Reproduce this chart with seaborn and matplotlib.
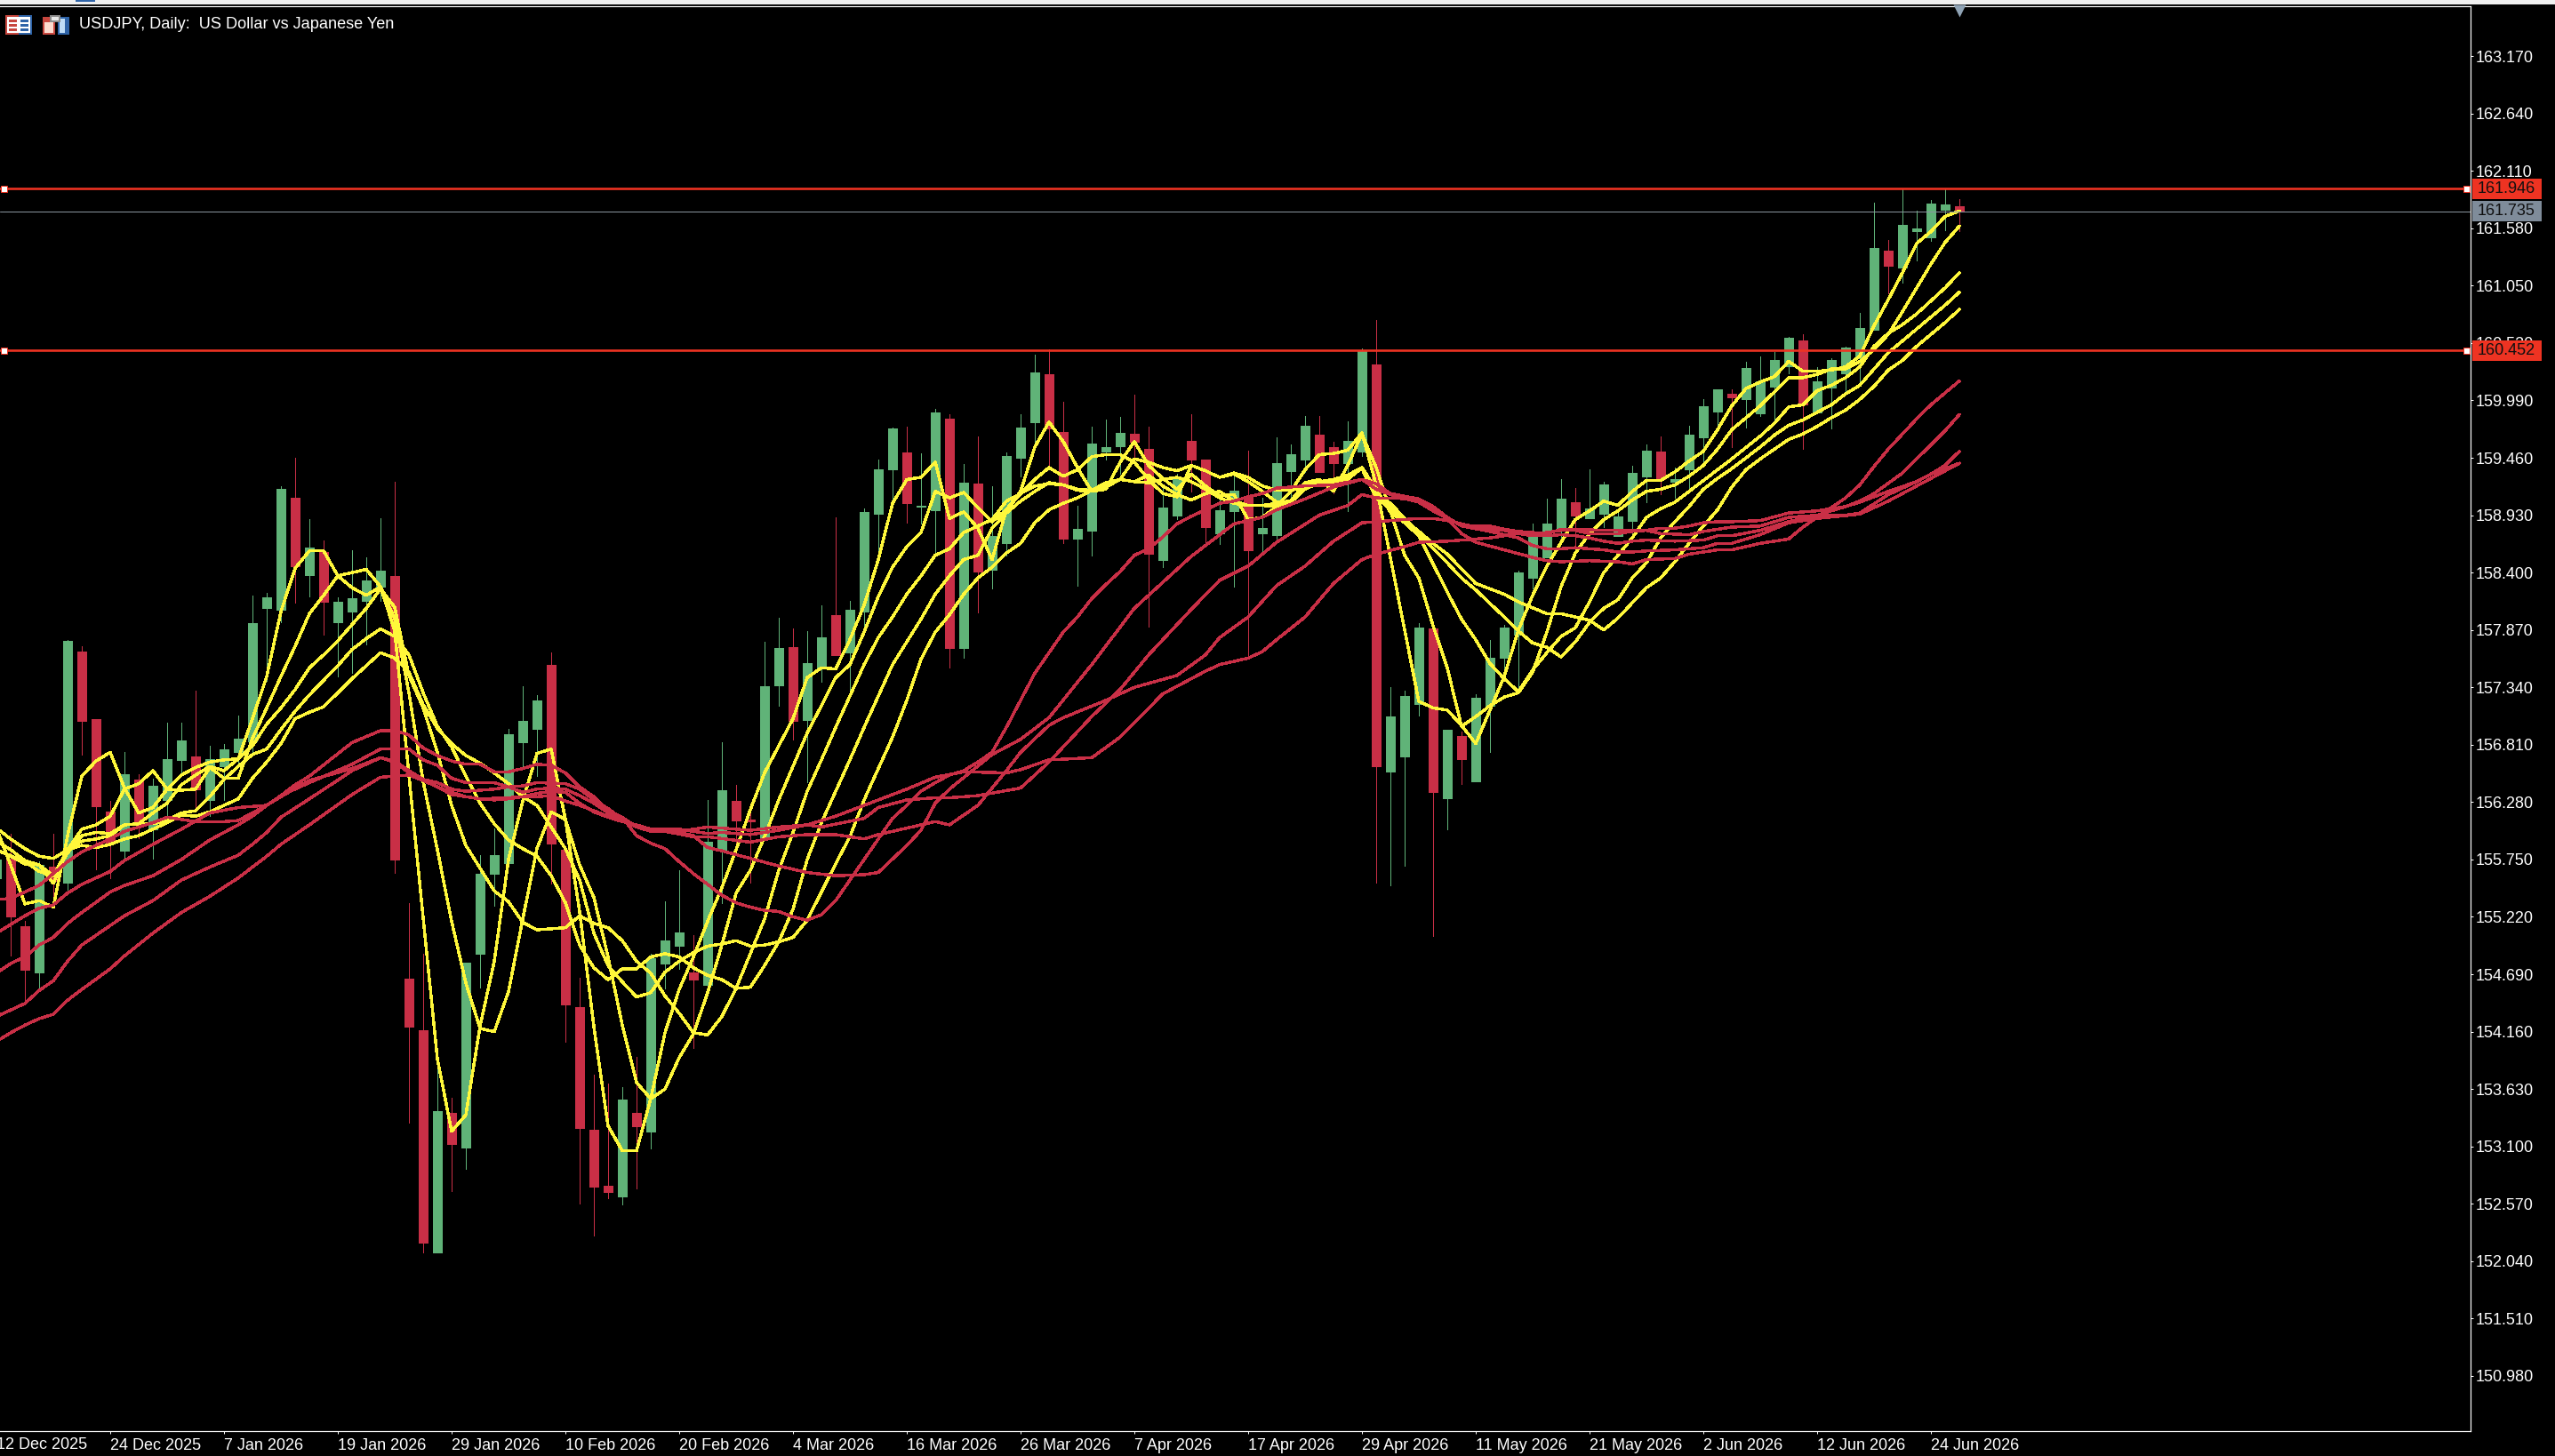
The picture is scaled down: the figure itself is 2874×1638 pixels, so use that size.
import pandas as pd
import matplotlib
matplotlib.use("Agg")
import matplotlib.pyplot as plt
from matplotlib.patches import Rectangle
from matplotlib.transforms import blended_transform_factory
import seaborn as sns

# daily candles
opens = [155.58,155.76,155.13,154.71,155.68,155.54,157.67,157.05,156.19,155.83,
         156.49,156.03,156.30,156.67,156.70,156.30,156.61,156.74,156.84,158.07,
         158.06,159.09,158.38,158.59,157.94,158.04,158.14,158.27,158.37,154.65,
         154.17,152.12,153.41,153.09,154.88,155.62,155.72,156.83,156.96,157.55,
         155.84,154.39,153.25,152.74,152.64,153.41,153.24,154.79,154.95,154.71,
         154.59,155.84,156.29,156.12,155.94,157.36,157.71,157.04,157.52,158.01,
         157.66,158.04,158.94,159.35,159.51,159.01,158.98,159.82,157.70,159.22,
         158.43,158.67,159.46,159.79,160.23,159.70,158.71,158.79,159.52,159.57,
         159.68,159.54,158.52,158.93,159.62,159.44,158.76,158.97,159.11,158.76,
         158.75,159.34,159.44,159.67,159.56,159.41,159.52,160.32,156.56,156.70,
         157.19,157.88,156.32,156.89,156.47,157.17,157.61,157.83,158.35,158.54,
         158.81,159.05,158.90,158.94,158.74,158.88,159.29,159.52,159.24,159.35,
         159.65,159.89,160.05,160.00,159.87,160.12,160.31,160.54,159.88,160.11,
         160.24,160.38,160.64,161.37,161.22,161.55,161.50,161.75,161.78]
closes = [155.75,155.22,154.73,155.70,155.55,157.77,157.03,156.24,155.90,156.54,
          156.08,156.43,156.68,156.85,156.40,156.68,156.77,156.87,157.93,158.17,
          159.17,158.46,158.63,158.13,158.13,158.16,158.33,158.42,155.75,154.21,
          152.21,153.43,153.12,154.80,155.62,155.79,156.91,157.03,157.22,155.90,
          154.41,153.27,152.73,152.68,153.53,153.29,154.84,155.00,155.08,154.64,
          155.91,156.39,156.11,156.10,157.35,157.70,157.03,157.56,157.80,157.64,
          158.06,158.96,159.35,159.73,159.04,159.02,159.88,157.70,159.23,158.41,
          158.74,159.48,159.74,160.25,159.73,158.71,158.80,159.59,159.56,159.69,
          159.61,158.57,159.00,159.28,159.44,158.82,158.98,159.16,158.61,158.81,
          159.41,159.49,159.76,159.33,159.41,159.62,160.45,156.61,157.07,157.26,
          157.89,156.37,156.95,156.68,157.24,157.61,157.89,158.40,158.78,158.85,
          159.08,158.93,158.99,159.21,158.92,159.32,159.53,159.26,159.26,159.67,
          159.94,160.09,160.02,160.29,160.17,160.36,160.57,159.95,160.17,160.36,
          160.48,160.66,161.40,161.23,161.61,161.58,161.81,161.80,161.74]
highs = [155.80,155.99,155.18,155.73,155.99,157.78,157.72,157.05,156.29,156.74,
         156.54,156.50,157.01,157.01,157.31,156.80,156.82,157.08,158.19,158.21,
         159.20,159.46,158.89,158.70,158.17,158.61,158.54,158.90,159.24,155.35,
         154.88,153.81,153.55,154.80,155.79,156.04,156.96,157.35,157.27,157.66,
         155.84,154.66,153.76,153.68,153.65,153.93,154.88,155.36,155.65,155.05,
         156.30,156.83,156.44,156.23,157.76,157.98,157.88,157.86,158.10,158.91,
         158.14,158.99,159.44,159.74,159.75,159.50,159.91,159.86,159.40,159.66,
         159.20,159.51,159.86,160.41,160.46,159.98,159.02,159.75,159.81,159.84,
         160.04,159.75,159.19,159.31,159.86,159.44,159.10,159.29,159.53,159.09,
         159.65,159.58,159.85,159.85,159.61,159.80,160.47,160.73,157.34,157.31,
         157.93,157.88,156.95,156.93,157.28,157.78,157.92,158.42,158.85,159.08,
         159.26,159.18,159.35,159.24,158.95,159.39,159.58,159.66,159.37,159.76,
         160.00,160.09,160.09,160.35,160.40,160.44,160.58,160.60,160.30,160.38,
         160.49,160.80,161.82,161.47,161.94,161.74,161.84,161.94,161.85]
lows = [155.45,154.86,154.45,154.56,155.31,155.45,156.72,155.66,155.58,155.76,
        155.95,155.76,156.15,156.54,156.20,156.15,156.30,156.60,156.72,157.40,
        157.94,158.12,158.18,157.83,157.44,157.47,157.74,158.14,155.63,153.32,
        152.12,152.12,152.69,152.89,154.57,155.32,155.72,156.60,156.52,155.53,
        154.07,152.57,152.28,152.62,152.56,152.71,153.08,154.56,154.74,154.01,
        154.59,155.35,155.84,155.54,155.94,157.17,156.86,156.46,157.39,157.64,
        157.28,157.87,158.56,159.02,158.86,158.85,158.58,157.52,157.61,158.03,
        158.25,158.56,159.29,159.56,159.35,158.67,158.28,158.56,159.44,159.31,
        159.47,157.90,158.45,158.89,159.15,158.64,158.66,158.27,157.61,158.60,
        158.70,159.05,159.33,159.33,159.13,158.97,159.48,155.54,155.51,155.69,
        157.08,155.04,156.03,156.45,156.47,156.74,157.51,157.34,158.25,158.54,
        158.69,158.60,158.90,158.82,158.74,158.76,159.05,159.12,159.09,159.17,
        159.39,159.72,159.56,159.74,159.85,159.79,160.24,159.54,159.88,159.73,
        160.05,160.13,160.64,160.98,161.08,161.28,161.46,161.56,161.55]

# yellow averages as (bar, price)
yellow_1 = [(0,156.04),(1,155.70),(2,155.34),(3,155.37),(4,155.31),(5,155.97),(6,156.52),(7,156.66),(8,156.74),(9,156.41),
            (10,156.18),(11,156.23),(12,156.40),(13,156.53),(14,156.60),(15,156.65),(16,156.67),(17,156.68),(18,157.05),(19,157.44),
            (20,158.04),(21,158.44),(22,158.60),(23,158.60),(24,158.37),(25,158.40),(26,158.43),(27,158.27),(28,157.86),(29,156.53),
            (30,155.21),(31,153.91),(32,153.24),(33,153.39),(34,154.21),(35,154.81),(36,155.75),(37,156.29),(38,156.73),(39,156.77),
            (40,156.12),(41,155.27),(42,154.21),(43,153.29),(44,153.06),(45,153.06),(46,153.54),(47,154.15),(48,154.55),(49,154.85),
            (50,155.18),(51,155.49),(52,155.84),(53,156.21),(54,156.55),(55,156.80),(56,157.05),(57,157.43),(58,157.52),(59,157.51),
            (60,157.78),(61,158.10),(62,158.52),(63,159.04),(64,159.26),(65,159.28),(66,159.42),(67,158.90),(68,158.96),(69,158.81),
            (70,158.52),(71,158.98),(72,159.15),(73,159.56),(74,159.79),(75,159.61),(76,159.37),(77,159.15),(78,159.17),(79,159.42),
            (80,159.61),(81,159.39),(82,159.27),(83,159.17),(84,159.31),(85,159.20),(86,159.11),(87,159.12),(88,158.89),(89,158.91),
            (90,159.01),(91,159.15),(92,159.35),(93,159.49),(94,159.50),(95,159.53),(96,159.69),(97,159.21),(98,158.54),(99,157.87),
            (100,157.21),(101,157.15),(102,157.13),(103,156.99),(104,156.82),(105,157.13),(106,157.44),(107,157.87),(108,158.19),(109,158.46),
            (110,158.68),(111,158.89),(112,158.97),(113,159.06),(114,159.02),(115,159.15),(116,159.25),(117,159.25),(118,159.33),(119,159.43),
            (120,159.52),(121,159.72),(122,159.94),(123,160.10),(124,160.16),(125,160.21),(126,160.35),(127,160.26),(128,160.26),(129,160.27),
            (130,160.30),(131,160.40),(132,160.68),(133,160.92),(134,161.17),(135,161.44),(136,161.55),(137,161.69),(138,161.74)]
yellow_2 = [(0,155.84),(1,155.78),(2,155.71),(3,155.70),(4,155.53),(5,155.84),(6,156.03),(7,156.07),(8,156.15),(9,156.40),
            (10,156.45),(11,156.57),(12,156.40),(13,156.39),(14,156.40),(15,156.60),(16,156.50),(17,156.50),(18,156.87),(19,157.15),
            (20,157.44),(21,157.72),(22,158.02),(23,158.19),(24,158.37),(25,158.26),(26,158.19),(27,158.27),(28,157.97),(29,157.29),
            (30,156.47),(31,155.84),(32,155.18),(33,154.61),(34,154.19),(35,154.16),(36,154.53),(37,155.20),(38,155.85),(39,156.19),
            (40,156.12),(41,155.70),(42,155.40),(43,154.85),(44,154.22),(45,153.69),(46,153.54),(47,153.63),(48,153.92),(49,154.14),
            (50,154.52),(51,154.96),(52,155.44),(53,155.65),(54,155.96),(55,156.30),(56,156.61),(57,156.92),(58,157.17),(59,157.43),
            (60,157.55),(61,157.85),(62,158.18),(63,158.45),(64,158.64),(65,158.77),(66,159.15),(67,159.09),(68,159.14),(69,159.00),
            (70,158.87),(71,158.98),(72,159.13),(73,159.26),(74,159.37),(75,159.29),(76,159.35),(77,159.47),(78,159.49),(79,159.49),
            (80,159.42),(81,159.26),(82,159.13),(83,159.10),(84,159.39),(85,159.34),(86,159.28),(87,159.31),(88,159.24),(89,159.15),
            (90,159.05),(91,159.06),(92,159.23),(93,159.26),(94,159.15),(95,159.39),(96,159.68),(97,159.37),(98,158.97),(99,158.56),
            (100,158.35),(101,157.91),(102,157.52),(103,156.98),(104,157.07),(105,157.17),(106,157.25),(107,157.29),(108,157.48),(109,157.85),
            (110,158.27),(111,158.58),(112,158.76),(113,158.89),(114,158.97),(115,159.07),(116,159.15),(117,159.17),(118,159.21),(119,159.29),
            (120,159.39),(121,159.54),(122,159.72),(124,159.94),(126,160.20),(127,160.20),(128,160.23),(129,160.28),(130,160.28),(131,160.35),
            (132,160.46),(133,160.60),(134,160.81),(135,161.03),(136,161.25),(137,161.45),(138,161.60)]
yellow_3 = [(0,155.92),(1,155.84),(2,155.74),(3,155.70),(4,155.60),(5,155.81),(6,155.97),(7,156.00),(8,155.99),(9,156.07),
            (10,156.08),(11,156.18),(12,156.27),(13,156.44),(14,156.53),(15,156.61),(16,156.57),(17,156.68),(18,156.80),(19,157.00),
            (20,157.15),(21,157.32),(22,157.52),(23,157.64),(24,157.77),(25,157.92),(26,158.07),(27,158.25),(28,158.08),(29,157.45),
            (30,157.15),(31,156.74),(32,156.25),(33,155.88),(34,155.67),(35,155.46),(36,155.36),(37,155.17),(38,155.10),(39,155.11),
            (40,155.12),(41,155.23),(42,155.16),(43,155.12),(44,155.00),(45,154.81),(46,154.70),(47,154.49),(48,154.33),(49,154.15),
            (50,154.13),(51,154.30),(52,154.56),(53,154.88),(54,155.20),(55,155.65),(56,156.00),(57,156.38),(58,156.67),(59,156.97),
            (60,157.26),(61,157.55),(62,157.80),(63,157.99),(64,158.20),(65,158.37),(66,158.56),(67,158.62),(68,158.77),(69,158.83),
            (70,158.89),(71,159.06),(72,159.13),(73,159.20),(74,159.22),(75,159.21),(76,159.16),(77,159.15),(78,159.19),(79,159.26),
            (80,159.24),(81,159.23),(82,159.26),(83,159.28),(84,159.24),(85,159.17),(86,159.09),(87,159.04),(88,159.02),(89,159.02),
            (90,159.04),(91,159.06),(92,159.20),(93,159.24),(94,159.26),(95,159.30),(96,159.37),(97,159.17),(98,158.96),(99,158.86),
            (100,158.74),(101,158.48),(102,158.22),(103,157.97),(104,157.78),(105,157.56),(106,157.42),(107,157.30),(108,157.50),(109,157.66),
            (110,157.81),(111,157.89),(112,158.13),(113,158.40),(114,158.56),(115,158.72),(116,158.91),(117,158.99),(118,159.05),(119,159.15),
            (120,159.25),(121,159.35),(122,159.45),(124,159.66),(125,159.78),(126,159.93),(127,159.95),(128,160.08),(129,160.13),(130,160.20),
            (131,160.30),(132,160.49),(133,160.61),(134,160.69),(135,160.79),(136,160.91),(137,161.03),(138,161.17)]
yellow_4 = [(0,155.84),(2,155.73),(3,155.64),(4,155.60),(5,155.84),(6,155.92),(7,155.94),(8,155.97),(9,156.07),
            (10,156.08),(11,156.08),(12,156.11),(13,156.18),(14,156.20),(15,156.33),(16,156.49),(17,156.61),(18,156.72),(19,156.77),
            (20,156.95),(21,157.12),(22,157.27),(24,157.54),(25,157.69),(26,157.79),(27,157.88),(28,157.81),(29,157.64),
            (30,157.29),(31,156.98),(32,156.79),(33,156.52),(34,156.27),(35,156.08),(36,155.93),(37,155.85),(38,155.78),(39,155.60),
            (40,155.35),(41,154.96),(42,154.75),(43,154.64),(44,154.74),(45,154.74),(46,154.85),(47,154.88),(48,154.85),(49,154.75),
            (50,154.68),(51,154.64),(52,154.56),(53,154.57),(54,154.77),(55,154.99),(56,155.29),(57,155.75),(58,156.09),(59,156.38),
            (60,156.67),(61,156.97),(62,157.26),(63,157.55),(64,157.76),(65,157.97),(66,158.20),(67,158.37),(68,158.52),(69,158.56),
            (70,158.81),(71,158.95),(72,159.06),(73,159.15),(74,159.23),(75,159.21),(76,159.17),(77,159.16),(78,159.21),(79,159.26),
            (80,159.45),(81,159.42),(82,159.37),(83,159.34),(84,159.39),(85,159.34),(86,159.28),(87,159.32),(88,159.28),(89,159.20),
            (90,159.16),(91,159.16),(92,159.19),(93,159.24),(94,159.23),(95,159.26),(96,159.37),(97,159.12),(98,159.04),(100,158.76),
            (102,158.49),(103,158.35),(104,158.24),(106,157.99),(107,157.86),(108,157.75),(109,157.71),(110,157.62),(111,157.76),(112,157.94),
            (113,158.07),(114,158.15),(115,158.35),(116,158.49),(117,158.72),(118,158.87),(119,159.01),(120,159.17),(121,159.27),(122,159.36),
            (124,159.56),(125,159.67),(126,159.76),(127,159.81),(128,159.88),(129,159.95),(130,160.05),(131,160.13),(132,160.28),(133,160.43),
            (134,160.54),(135,160.65),(136,160.76),(137,160.87),(138,160.99)]
yellow_5 = [(0,156.04),(1,155.94),(2,155.85),(3,155.78),(4,155.76),(5,155.84),(6,155.88),(7,155.86),(8,155.89),(9,155.94),
            (10,155.97),(11,156.03),(12,156.09),(13,156.16),(14,156.15),(15,156.19),(16,156.25),(17,156.31),(18,156.50),(19,156.65),
            (20,156.82),(21,157.05),(22,157.11),(23,157.16),(25,157.42),(27,157.66),(28,157.61),(29,157.48),
            (30,157.18),(31,156.96),(32,156.82),(33,156.71),(34,156.64),(35,156.55),(36,156.45),(37,156.33),(38,156.25),(39,156.05),
            (40,155.85),(41,155.56),(42,155.07),(43,154.77),(44,154.62),(45,154.48),(46,154.52),(47,154.71),(48,154.81),(49,154.89),
            (50,154.95),(51,154.97),(52,155.00),(53,154.95),(54,154.96),(55,154.99),(56,155.03),(57,155.19),(58,155.45),(59,155.71),
            (60,155.96),(61,156.30),(62,156.59),(63,156.88),(64,157.22),(65,157.60),(66,157.85),(67,158.01),(68,158.20),(69,158.35),
            (70,158.45),(71,158.58),(72,158.67),(73,158.86),(74,158.98),(75,159.04),(76,159.09),(77,159.16),(78,159.23),(79,159.26),
            (80,159.24),(81,159.30),(82,159.20),(83,159.12),(84,159.07),(85,159.13),(86,159.15),(87,159.06),(88,159.02),(89,159.02),
            (90,159.01),(91,159.05),(92,159.17),(93,159.23),(94,159.23),(95,159.28),(96,159.36),(97,159.09),(98,158.99),(100,158.78),
            (101,158.67),(102,158.57),(104,158.30),(106,158.20),(107,158.13),(109,158.02),(110,158.02),(112,157.96),(113,157.87),(114,157.98),
            (115,158.12),(116,158.26),(117,158.35),(118,158.50),(119,158.67),(120,158.83),(121,158.98),(122,159.19),(123,159.35),(124,159.45),
            (125,159.54),(126,159.63),(127,159.68),(128,159.75),(129,159.83),(130,159.90),(131,160.00),(132,160.12),(133,160.27),(134,160.36),
            (135,160.49),(136,160.60),(137,160.71),(138,160.83)]

# red averages as (bar, price)
red_1 = [(0,155.07),(2,155.23),(3,155.30),(4,155.33),(5,155.44),(6,155.52),(8,155.64),(9,155.74),(11,155.89),(13,156.03),
         (15,156.18),(17,156.23),(19,156.25),(20,156.34),(21,156.44),(22,156.52),(25,156.83),(27,156.94),(28,156.94),(29,156.90),
         (30,156.78),(31,156.71),(32,156.66),(33,156.63),(34,156.63),(35,156.56),(36,156.56),(37,156.59),(38,156.63),(39,156.62),
         (40,156.55),(41,156.42),(42,156.33),(43,156.20),(44,156.14),(45,155.97),(46,155.90),(47,155.85),(48,155.73),(49,155.62),
         (50,155.52),(51,155.42),(52,155.35),(53,155.31),(54,155.28),(55,155.27),(56,155.22),(57,155.19),(58,155.24),(59,155.37),
         (60,155.56),(61,155.75),(62,155.94),(63,156.13),(64,156.25),(65,156.38),(66,156.46),(67,156.53),(68,156.57),(69,156.65),
         (70,156.74),(71,156.97),(72,157.22),(73,157.47),(74,157.66),(75,157.85),(76,157.99),(77,158.16),(78,158.29),(79,158.41),
         (80,158.56),(81,158.62),(82,158.73),(83,158.85),(84,158.92),(85,158.98),(86,159.04),(87,159.06),(88,159.10),(89,159.13),
         (90,159.18),(92,159.20),(94,159.21),(96,159.26),(97,159.17),(98,159.12),(100,159.05),(101,158.97),(102,158.90),(103,158.76),
         (104,158.68),(106,158.61),(108,158.54),(109,158.51),(110,158.50),(112,158.51),(114,158.50),(115,158.48),(116,158.52),(118,158.53),
         (119,158.57),(121,158.61),(122,158.61),(124,158.67),(126,158.71),(127,158.82),(128,158.91),(129,159.00),(130,159.09),(131,159.21),
         (132,159.38),(133,159.54),(134,159.68),(135,159.82),(136,159.95),(137,160.06),(138,160.17)]
red_2 = [(0,154.70),(1,154.79),(2,154.85),(3,154.96),(4,155.03),(5,155.16),(6,155.26),(8,155.45),(9,155.51),(11,155.60),
         (13,155.75),(15,155.93),(17,156.07),(18,156.15),(19,156.25),(20,156.34),(21,156.40),(22,156.46),(25,156.63),(27,156.77),
         (29,156.77),(30,156.67),(31,156.62),(32,156.50),(33,156.46),(35,156.46),(36,156.42),(37,156.43),(38,156.46),(40,156.45),
         (41,156.40),(42,156.30),(43,156.22),(44,156.12),(45,156.05),(46,156.03),(48,156.00),(49,155.97),(50,155.86),(51,155.83),
         (53,155.76),(55,155.69),(57,155.63),(59,155.60),(61,155.61),(62,155.63),(64,155.88),(65,156.02),(66,156.27),(67,156.40),
         (70,156.72),(72,156.86),(74,157.06),(77,157.55),(80,158.07),(84,158.55),(86,158.75),(87,158.85),(89,158.91),(90,158.98),
         (92,159.08),(94,159.19),(96,159.26),(97,159.22),(98,159.13),(100,159.08),(101,158.98),(102,158.91),(103,158.83),(105,158.83),
         (106,158.80),(107,158.78),(109,158.76),(110,158.80),(111,158.80),(113,158.79),(116,158.79),(117,158.81),(118,158.81),(119,158.83),
         (120,158.86),(121,158.87),(122,158.87),(124,158.88),(126,158.95),(128,158.97),(130,159.01),(131,159.05),(133,159.15),(135,159.24),
         (136,159.31),(137,159.39),(138,159.52)]
red_3 = [(0,155.38),(1,155.39),(2,155.45),(3,155.51),(4,155.62),(5,155.73),(6,155.82),(8,155.94),(9,156.01),(11,156.09),
         (12,156.14),(14,156.10),(16,156.10),(17,156.11),(18,156.18),(19,156.25),(20,156.33),(22,156.48),(25,156.59),(27,156.69),
         (28,156.66),(29,156.57),(30,156.49),(31,156.46),(32,156.40),(33,156.38),(35,156.40),(36,156.42),(37,156.37),(38,156.40),
         (39,156.41),(40,156.40),(41,156.34),(42,156.27),(43,156.18),(44,156.14),(45,156.05),(46,156.03),(47,156.01),(49,155.96),
         (50,155.96),(53,155.91),(55,155.96),(57,155.98),(59,155.98),(61,155.94),(62,155.98),(64,156.04),(66,156.10),(67,156.07),
         (69,156.25),(71,156.57),(72,156.74),(74,156.99),(75,157.06),(78,157.22),(80,157.34),(83,157.45),(85,157.64),(86,157.80),
         (88,157.99),(90,158.28),(92,158.46),(94,158.69),(96,158.86),(97,158.87),(100,158.90),(101,158.90),(102,158.88),(103,158.85),
         (104,158.82),(105,158.80),(106,158.79),(107,158.76),(108,158.74),(109,158.74),(110,158.75),(111,158.74),(112,158.72),(113,158.69),
         (114,158.67),(115,158.69),(116,158.70),(118,158.69),(120,158.70),(121,158.74),(122,158.74),(124,158.79),(126,158.87),(128,158.93),
         (130,159.01),(131,159.06),(132,159.13),(134,159.32),(135,159.45),(137,159.71),(138,159.86)]
red_4 = [(0,154.30),(2,154.42),(3,154.54),(4,154.63),(5,154.81),(6,154.96),(8,155.14),(9,155.23),(11,155.37),(13,155.56),
         (15,155.68),(17,155.79),(18,155.89),(19,156.00),(20,156.14),(22,156.31),(25,156.57),(27,156.69),(28,156.65),(29,156.55),
         (30,156.49),(31,156.42),(32,156.35),(33,156.33),(34,156.31),(36,156.32),(37,156.33),(38,156.36),(39,156.38),(40,156.37),
         (41,156.27),(42,156.19),(43,156.14),(44,156.10),(45,156.07),(46,156.03),(48,156.03),(49,156.01),(50,155.99),(51,156.00),
         (53,155.98),(55,156.02),(57,156.07),(58,156.05),(61,156.13),(62,156.23),(64,156.30),(66,156.32),(67,156.32),(69,156.34),
         (72,156.41),(74,156.65),(77,157.07),(79,157.32),(81,157.64),(84,158.06),(86,158.33),(88,158.46),(90,158.68),(93,158.93),
         (95,159.02),(96,159.12),(97,159.09),(100,159.08),(101,159.01),(102,158.91),(103,158.83),(105,158.78),(107,158.72),(108,158.65),
         (109,158.62),(110,158.62),(111,158.63),(112,158.62),(113,158.61),(114,158.59),(115,158.59),(116,158.60),(118,158.61),(120,158.63),
         (121,158.67),(122,158.67),(124,158.75),(126,158.86),(128,158.90),(131,158.94),(133,159.06),(136,159.27),(138,159.41)]
red_5 = [(0,154.07),(1,154.15),(2,154.22),(3,154.28),(4,154.32),(5,154.45),(6,154.55),(8,154.74),(9,154.86),(11,155.07),
         (13,155.26),(15,155.41),(17,155.58),(18,155.68),(19,155.78),(20,155.89),(22,156.07),(25,156.35),(27,156.51),(28,156.52),
         (29,156.53),(30,156.48),(31,156.42),(32,156.37),(33,156.33),(34,156.31),(35,156.30),(36,156.31),(37,156.33),(38,156.33),
         (39,156.34),(40,156.29),(41,156.25),(42,156.20),(43,156.15),(44,156.12),(45,156.05),(46,156.01),(48,156.01),(49,156.03),
         (50,156.05),(51,156.04),(53,156.02),(55,156.05),(57,156.07),(59,156.15),(62,156.30),(64,156.40),(66,156.51),(68,156.56),
         (71,156.55),(72,156.58),(74,156.67),(77,156.69),(79,156.88),(82,157.28),(85,157.49),(86,157.55),(88,157.61),(89,157.67),
         (90,157.78),(92,157.99),(94,158.30),(96,158.52),(97,158.57),(99,158.64),(100,158.68),(102,158.69),(103,158.70),(104,158.71),
         (105,158.72),(106,158.74),(107,158.76),(108,158.76),(109,158.77),(110,158.79),(111,158.79),(112,158.76),(114,158.76),(115,158.78),
         (116,158.79),(117,158.76),(119,158.75),(120,158.78),(121,158.80),(122,158.82),(124,158.83),(126,158.91),(128,158.93),(130,158.93),
         (131,158.95),(133,159.12),(135,159.24),(136,159.31),(138,159.41)]

resistance = 161.946
support = 160.452
last_price = 161.735

price_ticks = [163.170,162.640,162.110,161.580,161.050,160.520,159.990,159.460,158.930,158.400,157.870,157.340,
               156.810,156.280,155.750,155.220,154.690,154.160,153.630,153.100,152.570,152.040,151.510,150.980]
date_labels = ["12 Dec 2025","24 Dec 2025","7 Jan 2026","19 Jan 2026","29 Jan 2026","10 Feb 2026","20 Feb 2026",
               "4 Mar 2026","16 Mar 2026","26 Mar 2026","7 Apr 2026","17 Apr 2026","29 Apr 2026","11 May 2026",
               "21 May 2026","2 Jun 2026","12 Jun 2026","24 Jun 2026"]
date_bars = list(range(0, 144, 8))

GREEN = "#60B378"
RED = "#C92F46"
YELLOW = "#FFF73A"
LEVEL = "#EE3322"
GREY = "#7F8C9A"
W, H = 2874, 1638
px = 0.72  # one pixel in points at dpi 100

sns.set_theme(style="dark", rc={"figure.facecolor": "black", "axes.facecolor": "black",
                                "axes.edgecolor": "white", "axes.grid": False})
plt.rcParams["font.family"] = ["Liberation Sans", "DejaVu Sans"]

fig = plt.figure(figsize=(W / 100, H / 100), dpi=100, facecolor="black")
ax = fig.add_axes([0, (H - 1610.3) / H, 2778.7 / W, (1610.3 - 7) / H])


def px_rect(x, y, w, h, color):
    fig.add_artist(Rectangle((x / W, 1 - (y + h) / H), w / W, h / H, transform=fig.transFigure,
                             facecolor=color, edgecolor="none"))


# candles
candles = pd.DataFrame({"open": opens, "close": closes, "high": highs, "low": lows})
candles["bar"] = candles.index
candles["color"] = [GREEN if c >= o else RED for o, c in zip(opens, closes)]
ax.vlines(candles["bar"], candles["low"], candles["high"], colors=candles["color"], lw=px,
          antialiased=False, zorder=2)
ax.bar(candles["bar"], (candles["close"] - candles["open"]).abs(),
       bottom=candles[["open", "close"]].min(axis=1), width=10 / 16, color=candles["color"],
       edgecolor=candles["color"], linewidth=px, antialiased=False, zorder=3)

# moving averages
rows = []
named = {"y1": yellow_1, "y2": yellow_2, "y3": yellow_3, "y4": yellow_4, "y5": yellow_5,
         "r1": red_1, "r2": red_2, "r3": red_3, "r4": red_4, "r5": red_5}
for name, pts in named.items():
    for bar, price in pts:
        rows.append({"line": name, "bar": bar, "price": price})
ma = pd.DataFrame(rows)
palette = {n: (YELLOW if n.startswith("y") else RED) for n in named}

sns.lineplot(data=ma[ma["line"].str.startswith("y")], x="bar", y="price", hue="line", palette=palette,
             estimator=None, sort=False, legend=False, lw=2.4 * px, ax=ax, zorder=4, antialiased=False)
sns.lineplot(data=ma[ma["line"].str.startswith("r")], x="bar", y="price", hue="line", palette=palette,
             estimator=None, sort=False, legend=False, lw=2.4 * px, ax=ax, zorder=5, antialiased=False)

# horizontal levels
ax.axhline(last_price, color="#8A949E", lw=px, zorder=6)
for level in (resistance, support):
    ax.axhline(level, color=LEVEL, lw=2.6 * px, zorder=6)

ax.set_xlim(0.25, 173.92)
ax.set_ylim(150.468, 163.631)
ax.set_xlabel("")
ax.set_ylabel("")

for name in ("top", "right", "bottom"):
    ax.spines[name].set_color("white")
    ax.spines[name].set_linewidth(1.2 * px)
ax.spines["left"].set_visible(False)

ax.yaxis.tick_right()
ax.set_yticks(price_ticks)
ax.set_yticklabels([f"{p:.3f}" for p in price_ticks])
ax.tick_params(axis="y", colors="white", length=3 * px, width=px, pad=3 * px, labelsize=13,
               right=True, left=False)
ax.set_xticks(date_bars[1:])
ax.set_xticklabels(date_labels[1:], ha="left")
ax.tick_params(axis="x", colors="white", length=3 * px, width=px, pad=5 * px, labelsize=13, bottom=True)

# first date label sits on a bar left of the window
blend_x = blended_transform_factory(ax.transData, ax.transAxes)
ax.text(date_bars[0], -(1626 - 1610.3) / (1610.3 - 7), date_labels[0], color="white", fontsize=13,
        ha="left", va="center", transform=blend_x, clip_on=False)

# price boxes on the axis
blend_y = blended_transform_factory(ax.transAxes, ax.transData)
box_x = 1 + 2.3 / 2778.7
box_w = 78 / 2778.7
box_h = 23 * 0.00821
for level, face in ((resistance, LEVEL), (support, LEVEL), (last_price, GREY)):
    ax.add_patch(Rectangle((box_x, level - box_h / 2), box_w, box_h, transform=blend_y, clip_on=False,
                           facecolor=face, edgecolor="none", zorder=10))
    ax.text(box_x + 6 / 2778.7, level, f"{level:.3f}", transform=blend_y, clip_on=False, color="#101010",
            fontsize=13, ha="left", va="center", zorder=11)

# drag handles at both ends of the levels
for level in (resistance, support):
    ax.plot([0.0015, 0.9983], [level, level], ls="none", marker="s", ms=7 * px, mfc="white", mec=LEVEL,
            mew=px, transform=blend_y, clip_on=False, zorder=12)

# chart shift marker
ax.plot([138], [0.9968], ls="none", marker="v", ms=14 * px, color="#8FA3B5", mec="none",
        transform=blend_x, clip_on=False, zorder=12)

# header strip
px_rect(0, 0, W, 5, "#F0F0F0")
px_rect(85, 0, 22, 1.5, "#2F64A8")

# title and toolbar icons
fig.text(89 / W, 1 - 28 / H, "USDJPY, Daily:  US Dollar vs Japanese Yen", color="white", fontsize=13.1,
         ha="left", va="center")
px_rect(6, 17, 15, 22, "#C8473F")
px_rect(21, 17, 15, 22, "#2F64A8")
px_rect(8, 19, 26, 18, "white")
for sy in (22, 27, 32):
    px_rect(10, sy, 9, 2.5, "#C8473F")
    px_rect(23, sy, 9, 2.5, "#2F64A8")
px_rect(48, 19, 14, 20, "#C8473F")
px_rect(50, 25, 10, 12, "#FCDCCF")
px_rect(65, 19, 13, 20, "#2F64A8")
px_rect(67, 21, 6, 16, "#BFDDF7")
px_rect(56, 17, 12, 8, "#8C8C8C")
px_rect(58, 19, 8, 4, "#E8E8E8")

fig.savefig("out.png", dpi=100, facecolor="black")
